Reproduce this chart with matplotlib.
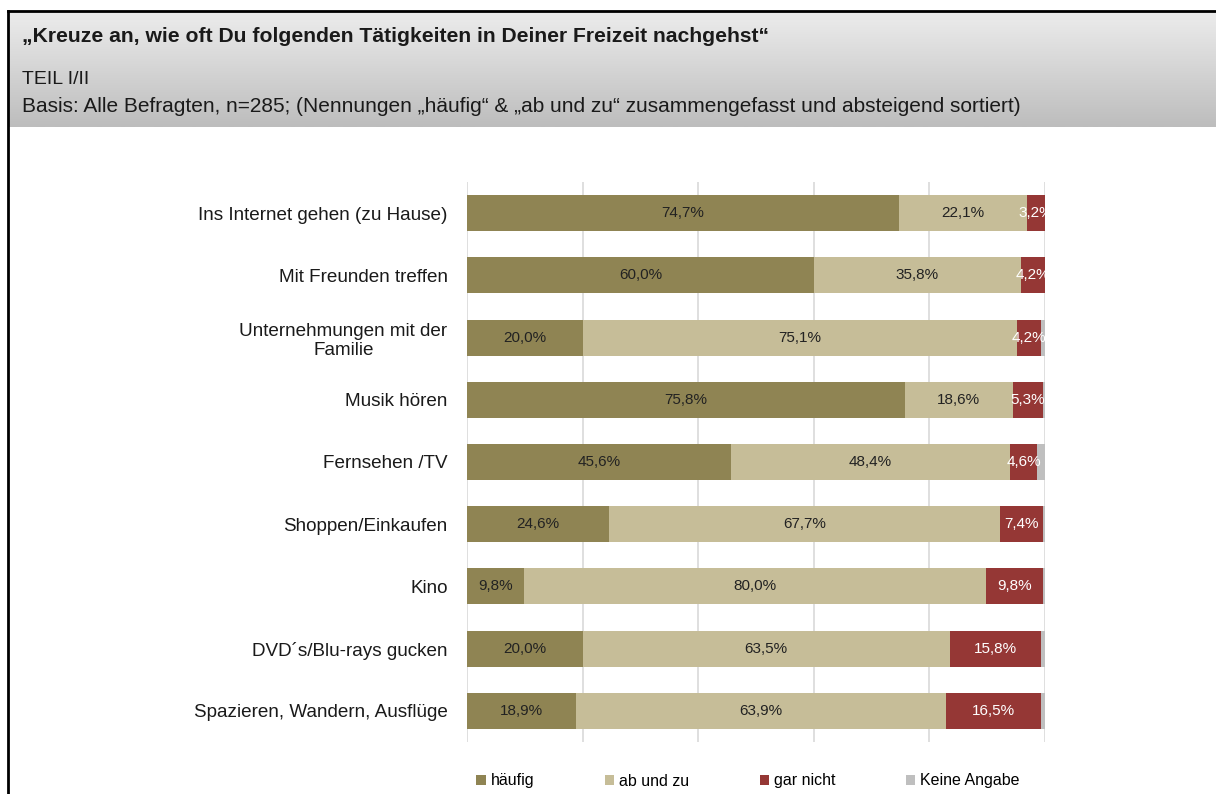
import numpy as np
import matplotlib
matplotlib.use('Agg')
import matplotlib.pyplot as plt

plt.rcParams['font.family'] = ['Liberation Sans', 'DejaVu Sans']

############### data
categories = ['Ins Internet gehen (zu Hause)', 'Mit Freunden treffen',
              'Unternehmungen mit der\nFamilie', 'Musik hören', 'Fernsehen /TV',
              'Shoppen/Einkaufen', 'Kino', 'DVD´s/Blu-rays gucken',
              'Spazieren, Wandern, Ausflüge']
haeufig = [74.7, 60.0, 20.0, 75.8, 45.6, 24.6, 9.8, 20.0, 18.9]
ab_und_zu = [22.1, 35.8, 75.1, 18.6, 48.4, 67.7, 80.0, 63.5, 63.9]
gar_nicht = [3.2, 4.2, 4.2, 5.3, 4.6, 7.4, 9.8, 15.8, 16.5]
keine_angabe = [0.0, 0.0, 0.7, 0.3, 1.4, 0.3, 0.4, 0.7, 0.7]

series_names = ['häufig', 'ab und zu', 'gar nicht', 'Keine Angabe']
colors = ['#8F8453', '#C6BD98', '#953735', '#BFBFBF']
label_colors = ['#222222', '#222222', 'white', None]

title = '„Kreuze an, wie oft Du folgenden Tätigkeiten in Deiner Freizeit nachgehst“'
teil = 'TEIL I/II'
basis = 'Basis: Alle Befragten, n=285; (Nennungen „häufig“ & „ab und zu“ zusammengefasst und absteigend sortiert)'

############### figure
fig = plt.figure(figsize=(12.16, 7.94), dpi=100)

# header box with gradient
grad = np.linspace(0, 1, 100).reshape(-1, 1)
hax = fig.add_axes([8/1216, 1-127/794, 1-8/1216, 115/794])
hax.imshow(grad, aspect='auto', cmap=matplotlib.colors.LinearSegmentedColormap.from_list(
    'g', ['#ECECEC', '#BDBDBD']), extent=[0, 1, 0, 1])
hax.set_xlim(0, 1)
hax.set_ylim(0, 1)
hax.axis('off')

# frame lines
fig.add_artist(plt.Line2D([8/1216, 8/1216], [0, 1-11/794], color='black', lw=2))
fig.add_artist(plt.Line2D([8/1216, 1], [1-11/794, 1-11/794], color='black', lw=2))

fig.text(22/1216, 1-37/794, title, fontsize=15.2, fontweight='bold', va='center',
         color='#1a1a1a')
fig.text(22/1216, 1-80/794, teil, fontsize=14, va='center', color='#1a1a1a')
fig.text(22/1216, 1-106/794, basis, fontsize=15, va='center', color='#1a1a1a')

############### bars
ax = fig.add_axes([467/1216, 1-742/794, 578/1216, 560/794])
y = np.arange(len(categories))
data = [haeufig, ab_und_zu, gar_nicht, keine_angabe]
left = np.zeros(len(categories))
for vals, name, c, lc in zip(data, series_names, colors, label_colors):
    vals = np.array(vals)
    ax.barh(y, vals, left=left, height=0.58, color=c, label=name, zorder=2)
    if lc is not None:
        for yi, l, v in zip(y, left, vals):
            ax.text(l + v/2, yi, ('%.1f%%' % v).replace('.', ','), ha='center',
                    va='center', fontsize=11, color=lc, zorder=3, clip_on=True)
    left = left + vals

ax.set_xlim(0, 100)
ax.set_ylim(len(categories) - 0.5, -0.5)
ax.set_xticks([0, 20, 40, 60, 80, 100])
ax.set_xticklabels([])
ax.tick_params(axis='x', length=0)
ax.tick_params(axis='y', length=0, pad=14)
ax.set_yticks(y)
ax.set_yticklabels(categories, fontsize=13.6, color='#1a1a1a', linespacing=1.2)
for lbl in ax.get_yticklabels():
    lbl.set_multialignment('center')
ax.grid(axis='x', color='#D9D9D9', lw=1.2, zorder=0)
for s in ax.spines.values():
    s.set_visible(False)

handles, labels = ax.get_legend_handles_labels()
fig.legend(handles, labels, loc='center', bbox_to_anchor=(748/1216, 1-781/794),
           ncol=4, frameon=False, fontsize=11.5, handlelength=0.6, handleheight=0.6,
           handletextpad=0.3, columnspacing=4.4)

fig.savefig('out.png', dpi=100)
